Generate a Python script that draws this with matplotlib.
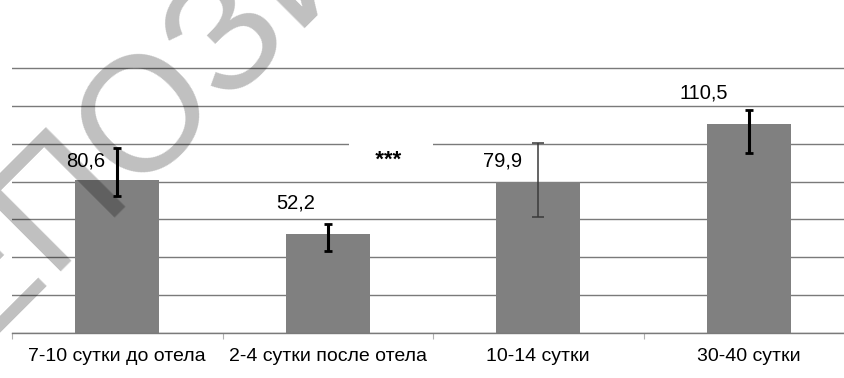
import matplotlib
matplotlib.use("Agg")
import matplotlib.pyplot as plt

plt.rcParams['font.family'] = ['Liberation Sans', 'DejaVu Sans']

# Periods and mean values with asymmetric error ranges
periods = ["7-10 сутки до отела", "2-4 сутки после отела", "10-14 сутки", "30-40 сутки"]
means = [80.6, 52.2, 79.9, 110.5]
err_low = [8.1, 8.8, 18.5, 15.4]
err_high = [16.9, 5.2, 20.2, 7.2]
signif_mark = "***"

# Label placement relative to each bar (x shift, baseline above value)
label_dx = [-0.058, -0.061, -0.077, -0.099]
label_dy = [7.6, 13.3, 8.3, 13.5]

fig = plt.figure(figsize=(8.44, 3.78), dpi=100)
ax = fig.add_axes([12 / 844, 45 / 378, 842 / 844, 284 / 378])

x = list(range(len(periods)))
ax.bar(x, means, width=0.4, color="#808080", zorder=2)

# error bars: the third one is drawn thinner in grey
for i in x:
    thin = (i == 2)
    ax.errorbar(i, means[i], yerr=[[err_low[i]], [err_high[i]]], fmt="none",
                ecolor="#3a3a3a" if thin else "black",
                elinewidth=1.1 if thin else 2.2,
                capsize=4.5 if thin else 3,
                capthick=1.1 if thin else 2.0, zorder=3)

for i in x:
    ax.text(i + label_dx[i], means[i] + label_dy[i], f"{means[i]:.1f}".replace(".", ","),
            ha="right", va="baseline", fontsize=14.5, zorder=4)

ax.text(1.30, 88, "   " + signif_mark + "    ", ha="center", va="baseline",
        fontsize=16, fontweight="bold", zorder=4,
        bbox=dict(boxstyle="square,pad=0.36", fc="white", ec="none"))

ax.set_xlim(-0.5, 3.5)
ax.set_ylim(0, 150)
ax.set_yticks(range(0, 160, 20))
ax.yaxis.grid(True, color="#7a7a7a", linewidth=1.0, zorder=0)
ax.set_axisbelow(True)
ax.tick_params(axis="y", left=False, labelleft=False)

# category boundaries get small ticks, names sit on minor ticks
ax.set_xticks([-0.5, 0.5, 1.5, 2.5])
ax.set_xticklabels([])
ax.tick_params(axis="x", which="major", length=4, color="#b0b0b0", direction="out")
ax.set_xticks(x, minor=True)
ax.set_xticklabels(periods, minor=True, fontsize=14)
ax.tick_params(axis="x", which="minor", length=0, pad=11)

for side in ["top", "right", "left"]:
    ax.spines[side].set_visible(False)
ax.spines["bottom"].set_color("#7a7a7a")
ax.spines["bottom"].set_linewidth(1.0)

# repository watermark across the figure
fig.text(-106 / 844, -48 / 378, "РЕПОЗИТОРИЙ", rotation=45, rotation_mode="anchor",
         ha="left", va="baseline", fontsize=118, color="black", alpha=0.25, zorder=10)

fig.savefig("out.png", dpi=100)
